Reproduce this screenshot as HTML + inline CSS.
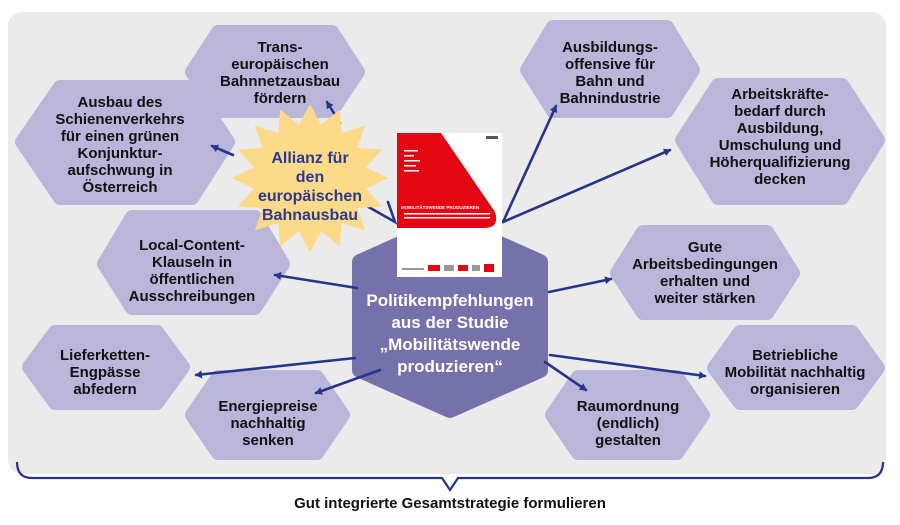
<!DOCTYPE html>
<html><head><meta charset="utf-8"><style>
body{margin:0;width:900px;height:525px;background:#fff;overflow:hidden}
svg{display:block}
text{font-family:"Liberation Sans",sans-serif;font-weight:bold;text-anchor:middle}
.n{fill:#b9b6d9}
.t{font-size:15px;fill:#111}
.a{stroke:#25358a;stroke-width:2.6;fill:none;stroke-linecap:round}
</style></head><body>
<svg width="900" height="525" viewBox="0 0 900 525">
<defs>
<marker id="ah" markerWidth="8" markerHeight="8" refX="6" refY="4" orient="auto" markerUnits="userSpaceOnUse">
<path d="M0,0 L7,4 L0,8 Z" fill="#25358a"/>
</marker>
</defs>
<rect x="8" y="12" width="878" height="462" rx="14" fill="#ebebeb"/>
<g stroke-linejoin="round" stroke="#b9b6d9" stroke-width="14" class="n">
<polygon points="218,32 332,32 358,72 332,111 218,111 192,72"/>
<polygon points="60,87 192,87 228,142 192,198 60,198 22,142"/>
<polygon points="553,27 667,27 693,70 667,111 553,111 527,70"/>
<polygon points="718,85 842,85 878,140 842,198 718,198 682,140"/>
<polygon points="132,217 255,217 283,264 255,308 132,308 104,264"/>
<polygon points="643,232 767,232 793,273 767,313 643,313 617,273"/>
<polygon points="55,332 157,332 183,367 157,403 55,403 29,367"/>
<polygon points="218,377 317,377 343,415 317,453 218,453 192,415"/>
<polygon points="578,377 677,377 703,415 677,453 578,453 552,415"/>
<polygon points="740,332 852,332 878,368 852,403 740,403 714,368"/>
</g>
<polygon points="450,222 540,262 540,370 450,410 360,370 360,262" fill="#7572ab" stroke="#7572ab" stroke-width="16" stroke-linejoin="round"/>
<g class="a">
<line x1="340" y1="123" x2="327" y2="102" marker-end="url(#ah)"/>
<line x1="233" y1="155" x2="212" y2="146" marker-end="url(#ah)"/>
<path d="M365,205 L395,222 L388,202"/>
<line x1="503" y1="222" x2="556" y2="106" marker-end="url(#ah)"/>
<line x1="503" y1="222" x2="670" y2="150" marker-end="url(#ah)"/>
<line x1="357" y1="288" x2="275" y2="275" marker-end="url(#ah)"/>
<line x1="549" y1="292" x2="611" y2="279" marker-end="url(#ah)"/>
<line x1="355" y1="358" x2="196" y2="375" marker-end="url(#ah)"/>
<line x1="380" y1="370" x2="316" y2="393" marker-end="url(#ah)"/>
<line x1="545" y1="362" x2="586" y2="390" marker-end="url(#ah)"/>
<line x1="550" y1="355" x2="705" y2="376" marker-end="url(#ah)"/>
</g>
<polygon id="star" fill="#fdd98a"/>
<g fill="#2b3a8c" style="font-size:16px">
<text x="310" y="163">Allianz für</text>
<text x="310" y="182">den</text>
<text x="310" y="201">europäischen</text>
<text x="310" y="220">Bahnausbau</text>
</g>
<rect x="397" y="133" width="105" height="144" fill="#fff"/>
<path d="M397,133 L441,133 L495,212 Q500,228 484,228 L397,228 Z" fill="#e30613"/>
<g fill="#fff"><rect x="404" y="150" width="14" height="1.5"/><rect x="404" y="155" width="10" height="1.5"/><rect x="404" y="160" width="16" height="1.5"/><rect x="404" y="165" width="12" height="1.5"/><rect x="404" y="170" width="15" height="1.5"/></g>
<text x="440" y="209" style="font-size:4.5px;fill:#fff">MOBILITÄTSWENDE PRODUZIEREN</text>
<rect x="404" y="213" width="86" height="1.5" fill="#fff"/><rect x="404" y="217" width="86" height="1.5" fill="#fff"/>
<rect x="486" y="136" width="12" height="3" fill="#555"/>
<g fill="#999"><rect x="402" y="268" width="22" height="2"/><rect x="428" y="265" width="12" height="6" fill="#e30613"/><rect x="444" y="265" width="10" height="6"/><rect x="458" y="265" width="10" height="6" fill="#e30613"/><rect x="472" y="265" width="8" height="6"/><rect x="484" y="264" width="10" height="8" fill="#e30613"/></g>
<g class="t">
<text x="280" y="52">Trans-</text><text x="280" y="69">europäischen</text><text x="280" y="86">Bahnnetzausbau</text><text x="280" y="103">fördern</text>
<text x="120" y="107">Ausbau des</text><text x="120" y="124">Schienenverkehrs</text><text x="120" y="141">für einen grünen</text><text x="120" y="158">Konjunktur-</text><text x="120" y="175">aufschwung in</text><text x="120" y="192">Österreich</text>
<text x="610" y="52">Ausbildungs-</text><text x="610" y="69">offensive für</text><text x="610" y="86">Bahn und</text><text x="610" y="103">Bahnindustrie</text>
<text x="780" y="99">Arbeitskräfte-</text><text x="780" y="116">bedarf durch</text><text x="780" y="133">Ausbildung,</text><text x="780" y="150">Umschulung und</text><text x="780" y="167">Höherqualifizierung</text><text x="780" y="184">decken</text>
<text x="192" y="250">Local-Content-</text><text x="192" y="267">Klauseln in</text><text x="192" y="284">öffentlichen</text><text x="192" y="301">Ausschreibungen</text>
<text x="705" y="252">Gute</text><text x="705" y="269">Arbeitsbedingungen</text><text x="705" y="286">erhalten und</text><text x="705" y="303">weiter stärken</text>
<text x="105" y="360">Lieferketten-</text><text x="105" y="377">Engpässe</text><text x="105" y="394">abfedern</text>
<text x="268" y="411">Energiepreise</text><text x="268" y="428">nachhaltig</text><text x="268" y="445">senken</text>
<text x="628" y="411">Raumordnung</text><text x="628" y="428">(endlich)</text><text x="628" y="445">gestalten</text>
<text x="795" y="360">Betriebliche</text><text x="795" y="377">Mobilität nachhaltig</text><text x="795" y="394">organisieren</text>
</g>
<g fill="#fff" style="font-size:17px">
<text x="450" y="306">Politikempfehlungen</text>
<text x="450" y="328">aus der Studie</text>
<text x="450" y="350">„Mobilitätswende</text>
<text x="450" y="372">produzieren“</text>
</g>
<path d="M17,462 Q17,478 32,478 L442,478 L450,490 L458,478 L868,478 Q883,478 883,462" stroke="#25358a" stroke-width="2.2" fill="none"/>
<text x="450" y="508" style="font-size:15px;fill:#111">Gut integrierte Gesamtstrategie formulieren</text>
</svg>
<script>
var p=[],cx=310,cy=178,n=16;
for(var i=0;i<n*2;i++){var r=i%2?57:78,a=Math.PI*i/n-Math.PI/2;p.push((cx+r*Math.cos(a)).toFixed(1)+","+(cy+r*0.95*Math.sin(a)).toFixed(1));}
document.getElementById("star").setAttribute("points",p.join(" "));
</script>
</body></html>
